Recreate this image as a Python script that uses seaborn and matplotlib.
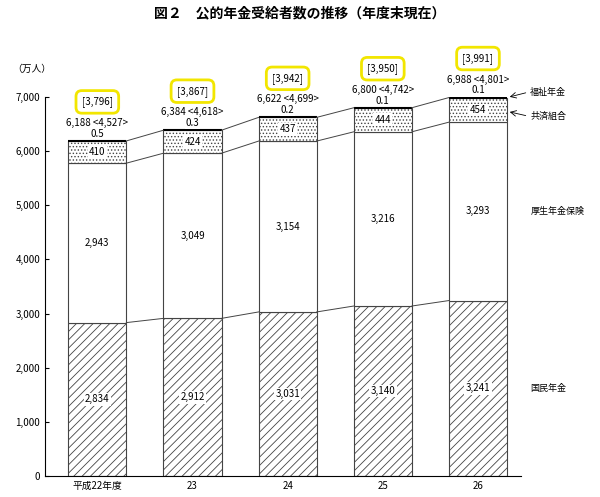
import matplotlib.pyplot as plt
import numpy as np
import pandas as pd
import seaborn as sns

plt.rcParams['font.family'] = 'Noto Sans CJK JP'
plt.rcParams['hatch.linewidth'] = 0.6

years = ['平成22年度', '23', '24', '25', '26']
kokumin = [2834, 2912, 3031, 3140, 3241]
kosei = [2943, 3049, 3154, 3216, 3293]
kyosai = [410, 424, 437, 444, 454]
fukushi = [0.5, 0.3, 0.2, 0.1, 0.1]
totals = ['6,188', '6,384', '6,622', '6,800', '6,988']
actual = ['4,527', '4,618', '4,699', '4,742', '4,801']
brackets = ['3,796', '3,867', '3,942', '3,950', '3,991']

if __name__ == "__main__":
    df = pd.DataFrame({'year': years, 'kokumin': kokumin, 'kosei': kosei,
                       'kyosai': kyosai, 'fukushi': fukushi})
    b1 = df['kokumin']
    b2 = b1 + df['kosei']
    b3 = b2 + df['kyosai']
    top = b3 + df['fukushi']

    fig = plt.figure(figsize=(6, 4.97), dpi=100)
    ax = fig.add_axes([0.075, 0.042, 0.793, 0.763])
    w = 0.61
    sns.barplot(data=df, x='year', y='kokumin', color='white', edgecolor='#444',
                hatch='////', linewidth=0.8, width=w, ax=ax)
    sns.barplot(x=df['year'], y=df['kosei'], bottom=b1, color='white', edgecolor='#444',
                linewidth=0.8, width=w, ax=ax)
    sns.barplot(x=df['year'], y=df['kyosai'], bottom=b2, color='white', edgecolor='#444',
                hatch='.....', linewidth=0.8, width=w, ax=ax)
    ax.hlines(top, np.arange(5) - w / 2, np.arange(5) + w / 2, color='black', lw=1.5)

    # connecting lines between bars
    x = np.arange(5)
    for lvl in [b1, b2, top]:
        for i in range(4):
            ax.plot([x[i] + w / 2, x[i + 1] - w / 2], [lvl[i], lvl[i + 1]], color='#444', lw=0.7)

    fs = 7
    for i in range(5):
        ax.text(i, kokumin[i] / 2, f'{kokumin[i]:,}', ha='center', va='center', fontsize=fs,
                bbox=dict(facecolor='white', edgecolor='none', pad=1))
        ax.text(i, b1[i] + kosei[i] / 2, f'{kosei[i]:,}', ha='center', va='center', fontsize=fs)
        ax.text(i, b2[i] + kyosai[i] / 2, f'{kyosai[i]}', ha='center', va='center', fontsize=fs,
                bbox=dict(facecolor='white', edgecolor='none', pad=1))
        ax.text(i, top[i] + 40, f'{fukushi[i]}', ha='center', va='bottom', fontsize=fs,
                bbox=dict(facecolor='white', edgecolor='none', pad=0.5))
        ax.text(i, top[i] + 240, f'{totals[i]} <{actual[i]}>', ha='center', va='bottom', fontsize=fs)
        ax.text(i, top[i] + 620, f'[{brackets[i]}]', ha='center', va='bottom', fontsize=fs,
                bbox=dict(boxstyle='round,pad=0.6', facecolor='white', edgecolor='#f2e600', lw=2))

    # series labels on right
    lx = 4.55
    ax.text(lx, top[4] + 100, '福祉年金', fontsize=6.5, va='center', clip_on=False)
    ax.text(lx, b2[4] + 110, '共済組合', fontsize=6.5, va='center', clip_on=False)
    ax.text(lx, b1[4] + kosei[4] / 2, '厚生年金保険', fontsize=6.5, va='center', clip_on=False)
    ax.text(lx, kokumin[4] / 2, '国民年金', fontsize=6.5, va='center', clip_on=False)
    ax.annotate('', xy=(4 + w / 2, top[4]), xytext=(lx - 0.02, top[4] + 100),
                arrowprops=dict(arrowstyle='->', lw=0.6), annotation_clip=False)
    ax.annotate('', xy=(4 + w / 2, b2[4] + 200), xytext=(lx - 0.02, b2[4] + 110),
                arrowprops=dict(arrowstyle='->', lw=0.6), annotation_clip=False)

    ax.set_xlim(-0.55, 4.45)
    ax.set_ylim(0, 7000)
    ax.set_yticks(range(0, 7001, 1000))
    ax.set_yticklabels([f'{v:,}' for v in range(0, 7001, 1000)], fontsize=7)
    ax.tick_params(axis='x', labelsize=7, length=0)
    ax.tick_params(axis='y', direction='in', length=3)
    ax.set_xlabel('')
    ax.set_ylabel('')
    ax.spines[['top', 'right']].set_visible(False)
    fig.text(0.02, 0.855, '（万人）', fontsize=7)
    fig.text(0.5, 0.965, '図２　公的年金受給者数の推移（年度末現在）', ha='center', fontsize=10,
             fontweight='bold')
    fig.savefig('out.png', dpi=100)
